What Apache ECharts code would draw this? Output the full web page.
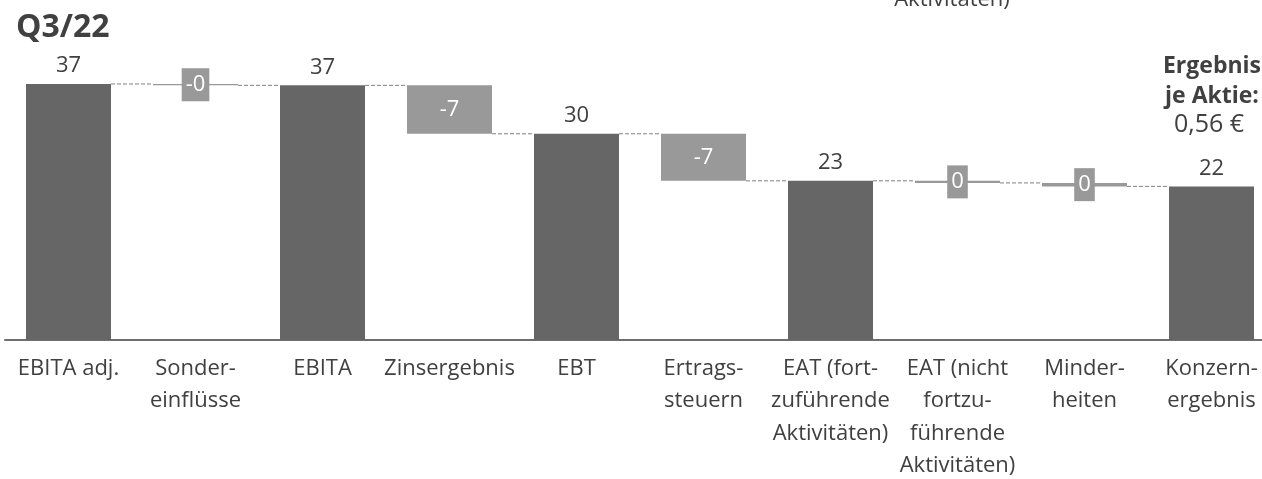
<!DOCTYPE html>
<html>
<head>
<meta charset="utf-8">
<script src="https://cdn.jsdelivr.net/npm/echarts@6/dist/echarts.min.js"></script>
<style>
html,body{margin:0;padding:0;background:#fff;overflow:hidden;width:1262px;height:479px;}
#chart{width:1290px;height:520px;}
</style>
</head>
<body>
<div id="chart"></div>
<script>
// ---- data ----
const categories = [
  "EBITA adj.", "Sonder-\neinflüsse", "EBITA", "Zinsergebnis", "EBT",
  "Ertrags-\nsteuern", "EAT (fort-\nzuführende\nAktivitäten)",
  "EAT (nicht\nfortzu-\nführende\nAktivitäten)", "Minder-\nheiten", "Konzern-\nergebnis"
];
const values = [37.0, -0.2, 36.8, -7.0, 29.8, -6.8, 23.0, -0.3, -0.5, 22.2];
const isTotal = [true, false, true, false, true, false, true, false, false, true];
const valueLabels = ["37", "-0", "37", "-7", "30", "-7", "23", "0", "0", "22"];
const title = "Q3/22";
const epsLines = ["Ergebnis", "je Aktie:", "0,56 €"];
const topFragment = "Aktivitäten)";

// ---- derived waterfall structure ----
const TEXT = "#404040", DARK = "#666666", LIGHT = "#999999";
const FONT = "'Open Sans', 'Noto Sans', sans-serif";
const base = [], height = [], levelAfter = [];
let running = 0;
values.forEach((v, i) => {
  if (isTotal[i]) { base.push(0); height.push(v); running = v; }
  else {
    const nt = running + v;
    base.push(Math.min(running, nt));
    height.push(Math.abs(v));
    running = nt;
  }
  levelAfter.push(running);
});

const barData = height.map((h, i) => {
  if (isTotal[i]) {
    return {
      value: h,
      itemStyle: { color: DARK },
      label: { show: true, position: 'top', distance: 7, color: TEXT, fontSize: 22,
               fontFamily: FONT, formatter: valueLabels[i] }
    };
  }
  return {
    value: h,
    itemStyle: { color: LIGHT },
    label: { show: true, position: 'inside', color: '#ffffff', fontSize: 22, fontFamily: FONT,
             backgroundColor: LIGHT, padding: [6, 4, 5, 4], formatter: valueLabels[i] }
  };
});

const BAR_W = 85;
const connectorData = levelAfter.slice(0, -1).map((lv, i) => [i, lv]);

const chart = echarts.init(document.getElementById('chart'), null, { renderer: 'canvas' });
chart.setOption({
  animation: false,
  grid: { left: 5, top: 63.2, width: 1270, height: 276.8, containLabel: false, outerBoundsMode: 'none' },
  xAxis: {
    type: 'category',
    data: categories,
    axisLine: { show: true, lineStyle: { color: '#6e6e6e', width: 2 } },
    axisTick: { show: false },
    axisLabel: { interval: 0, color: TEXT, fontSize: 22, fontFamily: FONT, lineHeight: 32.5, margin: 12 }
  },
  yAxis: { type: 'value', min: 0, max: 40, show: false, splitLine: { show: false } },
  series: [
    {
      type: 'bar', stack: 'wf', data: base, barWidth: BAR_W,
      itemStyle: { color: 'transparent' }, silent: true
    },
    {
      type: 'bar', stack: 'wf', data: barData, barWidth: BAR_W, z: 3
    },
    {
      type: 'custom',
      data: connectorData,
      z: 2,
      renderItem: function (params, api) {
        const i = api.value(0), lv = api.value(1);
        const p1 = api.coord([i, lv]);
        const p2 = api.coord([i + 1, lv]);
        return {
          type: 'line',
          shape: { x1: p1[0] + BAR_W / 2, y1: p1[1], x2: p2[0] - BAR_W / 2, y2: p2[1] },
          style: { stroke: '#7f7f7f', lineWidth: 1, lineDash: [4, 2] }
        };
      }
    }
  ],
  graphic: [
    { type: 'text', style: { x: 16, y: 28, text: title, fill: TEXT, font: "bold 32px " + FONT, textVerticalAlign: 'middle', textAlign: 'left' } },
    { type: 'text', style: { x: 1212, y: 66, text: epsLines[0], fill: TEXT, font: "bold 23px " + FONT, textVerticalAlign: 'middle', textAlign: 'center' } },
    { type: 'text', style: { x: 1212, y: 96, text: epsLines[1], fill: TEXT, font: "bold 23px " + FONT, textVerticalAlign: 'middle', textAlign: 'center' } },
    { type: 'text', style: { x: 1209, y: 125, text: epsLines[2], fill: TEXT, font: "25px " + FONT, textVerticalAlign: 'middle', textAlign: 'center' } },
    { type: 'text', style: { x: 952, y: 0, text: topFragment, fill: TEXT, font: "22px " + FONT, textVerticalAlign: 'middle', textAlign: 'center' } }
  ]
});
</script>
</body>
</html>
